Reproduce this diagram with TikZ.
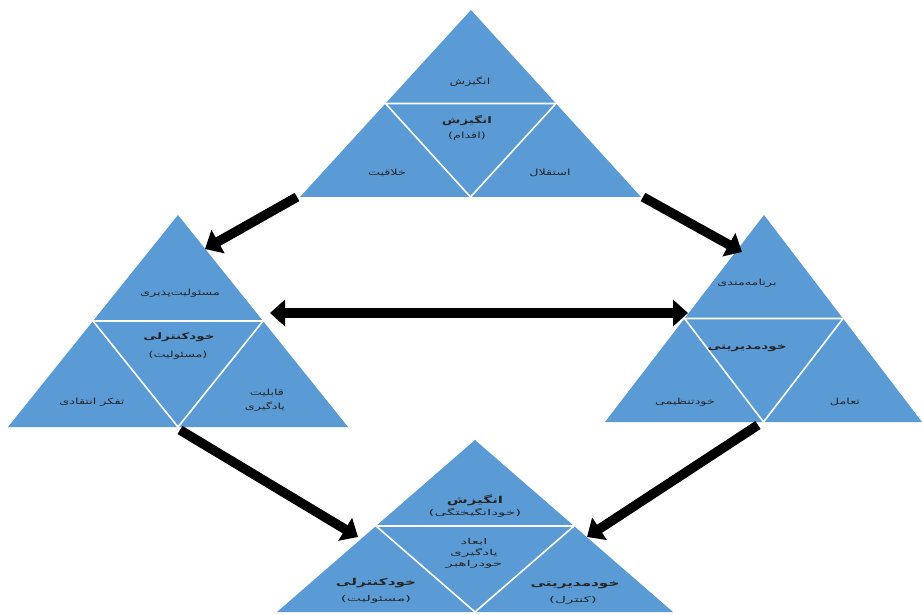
\documentclass[tikz,border=0pt]{standalone}
\usepackage{fontspec}
\newfontfamily\arabicfont[Script=Arabic,FakeStretch=1.5]{DejaVu Sans}
\newfontfamily\arabicwide[Script=Arabic,FakeStretch=1.9]{DejaVu Sans}
\newfontfamily\arabicbwide[Script=Arabic,FakeStretch=1.6]{DejaVu Sans}
\TeXXeTstate=1
\usetikzlibrary{arrows.meta,calc}
\definecolor{triblue}{HTML}{5B9BD5}
\newcommand{\fa}[1]{\beginR #1\endR}
\newcommand{\drawpyramid}[4]{%
  \coordinate (#1a) at #2;
  \coordinate (#1l) at #3;
  \coordinate (#1r) at #4;
  \coordinate (#1ml) at ($(#1a)!0.5!(#1l)$);
  \coordinate (#1mr) at ($(#1a)!0.5!(#1r)$);
  \coordinate (#1mb) at ($(#1l)!0.5!(#1r)$);
  \fill[triblue] (#1a) -- (#1l) -- (#1r) -- cycle;
  \draw[divline] (#1ml) -- (#1mr) -- (#1mb) -- cycle;
}
\tikzset{
  divline/.style={draw=white, line width=1.6pt, line join=miter},
  lbl/.style={font=\arabicfont\fontsize{8.5}{10}\selectfont, text=black!85, align=center, inner sep=0pt},
  blbl/.style={font=\arabicfont\bfseries\fontsize{9}{11}\selectfont, text=black!85, align=center, inner sep=0pt},
  wlbl/.style={font=\arabicwide\fontsize{8}{10}\selectfont, text=black!85, align=center, inner sep=0pt},
  bwlbl/.style={font=\arabicbwide\bfseries\fontsize{9.5}{11}\selectfont, text=black!85, align=center, inner sep=0pt},
  bigarrow/.style={line width=9.5pt, draw=black, -{Triangle[length=15pt,width=26pt]}},
  dblarrow/.style={line width=9.5pt, draw=black, {Triangle[length=15pt,width=26pt]}-{Triangle[length=15pt,width=26pt]}}
}
\begin{document}
\begin{tikzpicture}[x=1pt,y=-1pt]
\useasboundingbox (0,0) rectangle (922,615);
\fill[white] (0,0) rectangle (922,615);

% pyramids
\drawpyramid{T}{(471,10)}{(300,197)}{(641,197)}
\drawpyramid{L}{(178,215)}{(8,427)}{(348,427)}
\drawpyramid{R}{(764,215)}{(605,422)}{(922,422)}
\drawpyramid{B}{(475,440)}{(277,612)}{(673,612)}

% top pyramid labels
\node[lbl] (t1) at (470,82) {\fa{انگیزش}};
\node[blbl] (t2) at (467,121) {\fa{انگیزش}};
\node[lbl] (t2b) at (467,136) {\fa{(اقدام)}};
\node[lbl] (t3) at (387,173) {\fa{خلاقیت}};
\node[lbl] (t4) at (550,173) {\fa{استقلال}};

% left pyramid labels
\node[lbl] (l1) at (180,293) {\fa{مسئولیت‌پذیری}};
\node[blbl] (l2) at (179,337) {\fa{خودکنترلی}};
\node[lbl] (l2b) at (178,355) {\fa{(مسئولیت)}};
\node[lbl] (l3) at (92,402) {\fa{تفکر انتقادی}};
\node[lbl] (l4) at (267,393) {\fa{قابلیت}};
\node[lbl] (l4b) at (265,407) {\fa{یادگیری}};

% right pyramid labels
\node[lbl] (r1) at (747,283) {\fa{برنامه‌مندی}};
\node[blbl] (r2) at (747,348) {\fa{خودمدیریتی}};
\node[lbl] (r3) at (685,402) {\fa{خودتنظیمی}};
\node[lbl] (r4) at (845,402) {\fa{تعامل}};

% bottom pyramid labels
\node[bwlbl] (b1) at (475,500) {\fa{انگیزش}};
\node[wlbl] (b1b) at (475,513) {\fa{(خودانگیختگی)}};
\node[wlbl] (b2) at (474,542) {\fa{ابعاد}};
\node[wlbl] (b2b) at (474,553) {\fa{یادگیری}};
\node[wlbl] (b2c) at (474,564) {\fa{خودراهبر}};
\node[bwlbl] (b3) at (376,583) {\fa{خودکنترلی}};
\node[wlbl] (b3b) at (376,599) {\fa{(مسئولیت)}};
\node[bwlbl] (b4) at (575,585) {\fa{خودمدیریتی}};
\node[wlbl] (b4b) at (573,600) {\fa{(کنترل)}};

% arrow end points
\coordinate (a1s) at (297,197);
\coordinate (a1e) at (205,249);
\coordinate (a2s) at (643,197);
\coordinate (a2e) at (742,252);
\coordinate (a3s) at (270,313);
\coordinate (a3e) at (688,313);
\coordinate (a4s) at (180,430);
\coordinate (a4e) at (358,537);
\coordinate (a5s) at (758,425);
\coordinate (a5e) at (587,537);

\draw[bigarrow] (a1s) -- (a1e);
\draw[bigarrow] (a2s) -- (a2e);
\draw[dblarrow] (a3s) -- (a3e);
\draw[bigarrow] (a4s) -- (a4e);
\draw[bigarrow] (a5s) -- (a5e);
\end{tikzpicture}
\end{document}
